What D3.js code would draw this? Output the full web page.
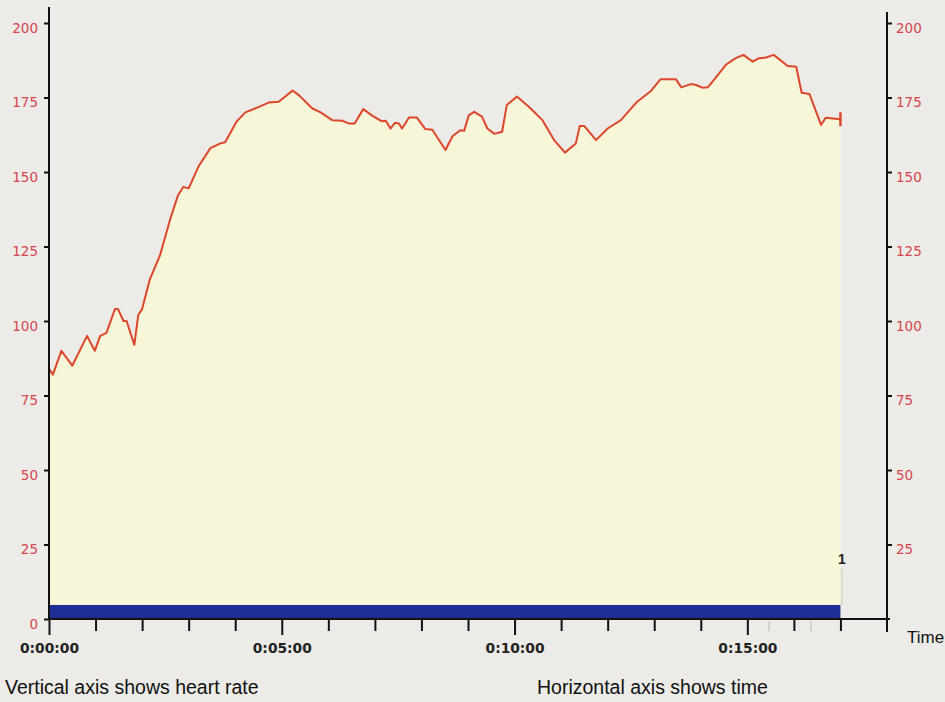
<!DOCTYPE html>
<html>
<head>
<meta charset="utf-8">
<script src="https://cdn.jsdelivr.net/npm/d3@7"></script>
<style>
  html, body { margin: 0; padding: 0; background: #ecebe7; }
  svg { display: block; }
</style>
</head>
<body>
<svg id="chart" width="945" height="702"></svg>
<script>
// ---- data (time in seconds, heart rate in bpm) ----
const timeSec = [0,5,16,30,49,59,66,74,85,89,96,100,110,115,120,130,143,156,166,173,180,193,208,221,227,242,253,272,283,296,314,322,339,350,365,378,386,394,405,416,429,434,440,446,451,455,464,474,485,494,511,520,530,535,541,548,558,565,574,584,590,603,618,636,651,665,679,684,690,705,720,737,758,775,788,808,815,827,834,842,849,857,872,885,895,907,915,924,934,952,963,970,980,995,1001,1020];
const heartRate = [84,82,90,85,95,90,95,96,104,104,100,100,92,102,104,114,122,134,142,145,144.5,152,158,159.6,160,167,170,172,173.3,173.6,177.3,175.8,171.4,170,167.4,167.2,166.3,166.3,171.1,169,167,167.2,164.6,166.5,166.3,164.6,168.3,168.3,164.4,164.2,157.4,162,164,163.8,169,170.2,168.6,164.6,162.8,163.5,172.5,175.3,172,167.4,160.7,156.5,159.6,165.4,165.4,160.7,164.6,167.4,173.6,177,181.1,181.1,178.4,179.5,179.2,178.3,178.4,180.9,185.9,188.2,189.3,187,188.2,188.4,189.3,185.6,185.3,176.6,176.2,165.8,168.2,167.7];
const yTicks = [0,25,50,75,100,125,150,175,200];
const yTicksRight = [25,50,75,100,125,150,175,200];
const xMinorTicks = d3.range(0, 1021, 60);
const xMajorTicks = [0, 300, 600, 900];
const lapMarks = [928, 982];
const lapLabel = "1";
const bandValue = 4.7;   // blue band height in bpm units
const xMax = 1080;
const yMax = 200;

const svg = d3.select("#chart");
const x = d3.scaleLinear().domain([0, xMax]).range([49, 887]);
const y = d3.scaleLinear().domain([0, yMax]).range([619, 23]);

const data = timeSec.map((t, i) => ({ t, v: heartRate[i] }));
const tEnd = timeSec[timeSec.length - 1];

// area fill
svg.append("path")
  .datum(data)
  .attr("fill", "#f7f6d9")
  .attr("d", d3.area().x(d => x(d.t)).y0(y(0)).y1(d => y(d.v)));

// faint lap line under the label
svg.append("line")
  .attr("x1", x(tEnd) + 1.5).attr("x2", x(tEnd) + 1.5)
  .attr("y1", 569).attr("y2", y(bandValue))
  .attr("stroke", "#cfc8b0").attr("stroke-width", 1);

svg.append("text")
  .attr("x", x(tEnd) + 1.5).attr("y", 564)
  .attr("text-anchor", "middle")
  .attr("font-family", "Liberation Sans, Arial, sans-serif")
  .attr("font-weight", "bold")
  .attr("font-size", 14)
  .attr("fill", "#222")
  .text(lapLabel);

// blue band
svg.append("rect")
  .attr("x", x(0)).attr("y", y(bandValue))
  .attr("width", x(tEnd) - x(0)).attr("height", y(0) - y(bandValue))
  .attr("fill", "#1d2f94");

// heart rate line
svg.append("path")
  .datum(data)
  .attr("fill", "none")
  .attr("stroke", "#dc472c")
  .attr("stroke-width", 2)
  .attr("stroke-linejoin", "round")
  .attr("d", d3.line().x(d => x(d.t)).y(d => y(d.v)));

// end marker
svg.append("line")
  .attr("x1", x(tEnd)).attr("x2", x(tEnd))
  .attr("y1", y(heartRate[heartRate.length - 1]) - 7)
  .attr("y2", y(heartRate[heartRate.length - 1]) + 7)
  .attr("stroke", "#dc472c").attr("stroke-width", 2.5);

// ---- axes ----
const fmt = s => `${Math.floor(s / 3600)}:${String(Math.floor(s / 60) % 60).padStart(2, "0")}:${String(s % 60).padStart(2, "0")}`;

// left axis
const gL = svg.append("g").attr("transform", `translate(${x(0)},0)`)
  .call(d3.axisLeft(y).tickValues(yTicks).tickSize(5).tickPadding(6));
gL.select(".domain").remove();
gL.selectAll(".tick line").attr("stroke", "#111").attr("stroke-width", 2);
gL.selectAll(".tick text")
  .attr("font-family", "DejaVu Sans, sans-serif").attr("font-size", 13.5)
  .attr("fill", "#d5454c").attr("y", 5);
svg.append("line").attr("x1", x(0)).attr("x2", x(0)).attr("y1", 7).attr("y2", y(0))
  .attr("stroke", "#111").attr("stroke-width", 2);

// right axis
const gR = svg.append("g").attr("transform", `translate(${x(xMax)},0)`)
  .call(d3.axisRight(y).tickValues(yTicksRight).tickSize(5).tickPadding(4));
gR.select(".domain").remove();
gR.selectAll(".tick line").attr("stroke", "#111").attr("stroke-width", 2);
gR.selectAll(".tick text")
  .attr("font-family", "DejaVu Sans, sans-serif").attr("font-size", 13.5)
  .attr("fill", "#d5454c").attr("y", 5);
svg.append("line").attr("x1", x(xMax)).attr("x2", x(xMax)).attr("y1", 12).attr("y2", 632)
  .attr("stroke", "#111").attr("stroke-width", 2);

// bottom axis
const gB = svg.append("g").attr("transform", `translate(0,${y(0)})`)
  .call(d3.axisBottom(x).tickValues(xMinorTicks).tickSize(12)
    .tickFormat(d => xMajorTicks.includes(d) ? fmt(d) : ""));
gB.select(".domain").remove();
gB.selectAll(".tick line").attr("stroke", "#111").attr("stroke-width", 2)
  .attr("y2", d => xMajorTicks.includes(d) ? 16 : 12);
gB.selectAll(".tick text")
  .attr("font-family", "DejaVu Sans, sans-serif").attr("font-size", 13.8)
  .attr("font-weight", "bold").attr("fill", "#222")
  .attr("y", 34).attr("dy", 0);
svg.append("line").attr("x1", x(0) - 1).attr("x2", x(xMax) + 3).attr("y1", y(0)).attr("y2", y(0))
  .attr("stroke", "#111").attr("stroke-width", 2);

// faint lap ticks
svg.selectAll(".lap").data(lapMarks).enter().append("line")
  .attr("x1", d => x(d)).attr("x2", d => x(d))
  .attr("y1", y(0) + 2).attr("y2", y(0) + 12)
  .attr("stroke", "#bdb9b2").attr("stroke-width", 1);

// labels
svg.append("text").attr("x", 907).attr("y", 643)
  .attr("font-family", "Liberation Sans, Arial, sans-serif").attr("font-size", 17)
  .attr("fill", "#111").text("Time");
svg.append("text").attr("x", 5).attr("y", 694)
  .attr("font-family", "Liberation Sans, Arial, sans-serif").attr("font-size", 19.5)
  .attr("fill", "#111").text("Vertical axis shows heart rate");
svg.append("text").attr("x", 537).attr("y", 694)
  .attr("font-family", "Liberation Sans, Arial, sans-serif").attr("font-size", 19.5)
  .attr("fill", "#111").text("Horizontal axis shows time");
</script>
</body>
</html>
